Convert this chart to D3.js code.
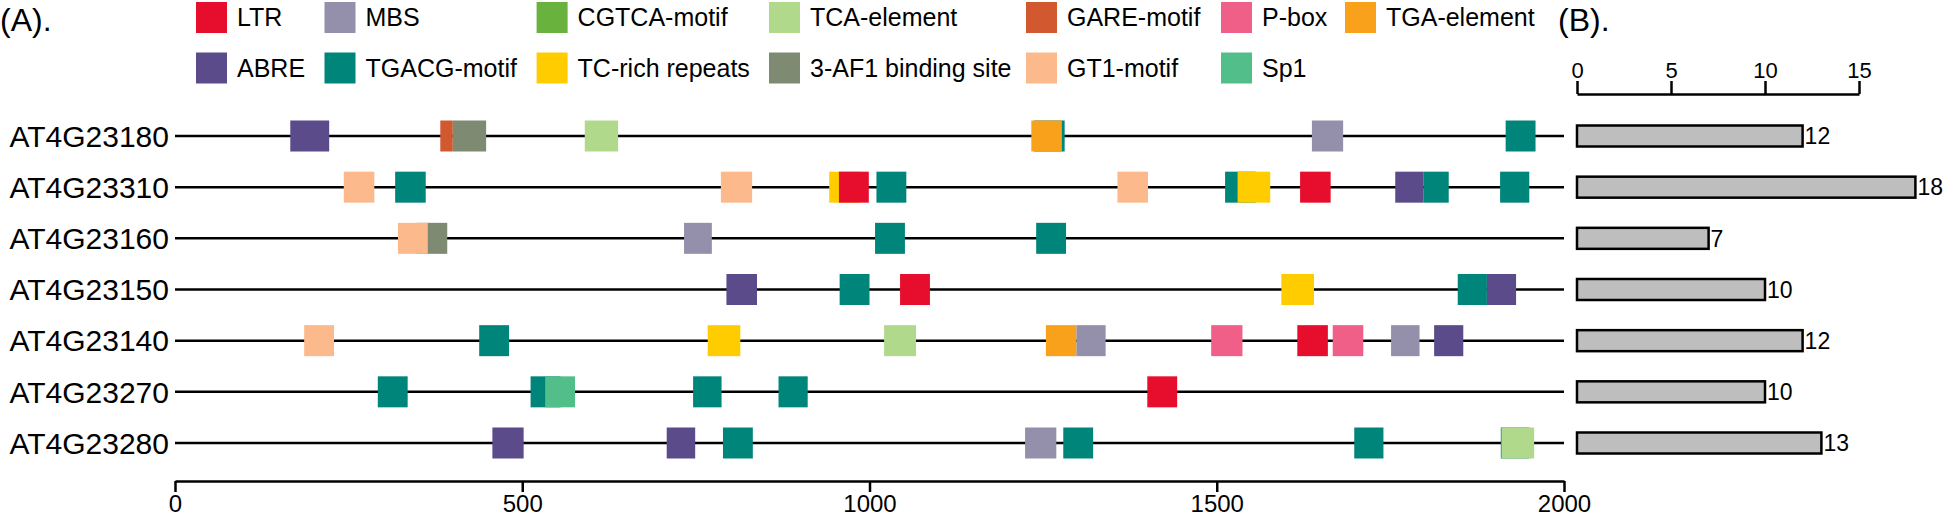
<!DOCTYPE html>
<html>
<head>
<meta charset="utf-8">
<script src="https://cdn.jsdelivr.net/npm/d3@7"></script>
<style>
  body { margin: 0; background: #fff; }
  svg { display: block; font-family: "Liberation Sans", Arial, sans-serif; }
</style>
</head>
<body>
<div id="chart"></div>
<script>
// Genes, top to bottom
const genes = ['AT4G23180', 'AT4G23310', 'AT4G23160', 'AT4G23150', 'AT4G23140', 'AT4G23270', 'AT4G23280'];

// Number of elements per gene (panel B)
const counts = [12, 18, 7, 10, 12, 10, 13];

// Legend rows
const legendRow1 = ['LTR', 'MBS', 'CGTCA-motif', 'TCA-element', 'GARE-motif', 'P-box', 'TGA-element'];
const legendRow2 = ['ABRE', 'TGACG-motif', 'TC-rich repeats', '3-AF1 binding site', 'GT1-motif', 'Sp1'];

const motifColors = {
  'LTR': '#e60e2c',
  'MBS': '#948faa',
  'CGTCA-motif': '#6ab23e',
  'TCA-element': '#b1d98b',
  'GARE-motif': '#d1582f',
  'P-box': '#ef5f87',
  'TGA-element': '#f9a11b',
  'ABRE': '#5b4b8a',
  'TGACG-motif': '#00857a',
  'TC-rich repeats': '#ffcc00',
  '3-AF1 binding site': '#7e8a72',
  'GT1-motif': '#fbb98c',
  'Sp1': '#52bf8b'
};

// Sites: [gene, motif, start, end] (drawn in this order, later ones on top)
const sites = [
  ['AT4G23180', 'ABRE', 166, 222],
  ['AT4G23180', 'GARE-motif', 382, 400],
  ['AT4G23180', '3-AF1 binding site', 400, 448],
  ['AT4G23180', 'TCA-element', 590, 638],
  ['AT4G23180', 'TGACG-motif', 1237, 1281],
  ['AT4G23180', 'TGA-element', 1233, 1277],
  ['AT4G23180', 'MBS', 1637, 1682],
  ['AT4G23180', 'TGACG-motif', 1916, 1959],

  ['AT4G23310', 'GT1-motif', 243, 287],
  ['AT4G23310', 'TGACG-motif', 317, 361],
  ['AT4G23310', 'GT1-motif', 786, 831],
  ['AT4G23310', 'TC-rich repeats', 942, 986],
  ['AT4G23310', 'LTR', 956, 999],
  ['AT4G23310', 'TGACG-motif', 1010, 1053],
  ['AT4G23310', 'GT1-motif', 1357, 1401],
  ['AT4G23310', 'TGACG-motif', 1512, 1556],
  ['AT4G23310', 'TC-rich repeats', 1530, 1577],
  ['AT4G23310', 'LTR', 1620, 1664],
  ['AT4G23310', 'ABRE', 1757, 1798],
  ['AT4G23310', 'TGACG-motif', 1798, 1834],
  ['AT4G23310', 'TGACG-motif', 1908, 1950],

  ['AT4G23160', '3-AF1 binding site', 348, 392],
  ['AT4G23160', 'GT1-motif', 321, 364],
  ['AT4G23160', 'MBS', 733, 773],
  ['AT4G23160', 'TGACG-motif', 1008, 1051],
  ['AT4G23160', 'TGACG-motif', 1240, 1283],

  ['AT4G23150', 'ABRE', 794, 838],
  ['AT4G23150', 'TGACG-motif', 957, 1000],
  ['AT4G23150', 'LTR', 1044, 1087],
  ['AT4G23150', 'TC-rich repeats', 1593, 1640],
  ['AT4G23150', 'TGACG-motif', 1847, 1889],
  ['AT4G23150', 'ABRE', 1889, 1931],

  ['AT4G23140', 'GT1-motif', 186, 229],
  ['AT4G23140', 'TGACG-motif', 438, 481],
  ['AT4G23140', 'TC-rich repeats', 767, 814],
  ['AT4G23140', 'TCA-element', 1021, 1067],
  ['AT4G23140', 'TGA-element', 1254, 1298],
  ['AT4G23140', 'MBS', 1298, 1340],
  ['AT4G23140', 'P-box', 1492, 1537],
  ['AT4G23140', 'LTR', 1616, 1660],
  ['AT4G23140', 'P-box', 1667, 1711],
  ['AT4G23140', 'MBS', 1751, 1792],
  ['AT4G23140', 'ABRE', 1813, 1855],

  ['AT4G23270', 'TGACG-motif', 292, 335],
  ['AT4G23270', 'TGACG-motif', 512, 555],
  ['AT4G23270', 'Sp1', 533, 576],
  ['AT4G23270', 'TGACG-motif', 746, 787],
  ['AT4G23270', 'TGACG-motif', 869, 911],
  ['AT4G23270', 'LTR', 1400, 1443],

  ['AT4G23280', 'ABRE', 457, 502],
  ['AT4G23280', 'ABRE', 708, 749],
  ['AT4G23280', 'TGACG-motif', 789, 832],
  ['AT4G23280', 'MBS', 1224, 1269],
  ['AT4G23280', 'TGACG-motif', 1279, 1322],
  ['AT4G23280', 'TGACG-motif', 1698, 1740],
  ['AT4G23280', 'TGACG-motif', 1909, 1950],
  ['AT4G23280', 'TCA-element', 1910, 1957]
];

const posTicks = [0, 500, 1000, 1500, 2000];
const countTicks = [0, 5, 10, 15];

const width = 1946, height = 519;

const svg = d3.select('#chart')
  .append('svg')
  .attr('width', width)
  .attr('height', height);

// Scales
const x = d3.scaleLinear().domain([0, 2000]).range([175, 1564]);
const y = d3.scalePoint().domain(genes).range([136, 443]);
const c = d3.scaleLinear().domain([0, 15]).range([1577, 1859]);

const boxH = 31;

// Panel labels
svg.append('text').attr('x', 0).attr('y', 31).style('font-size', '32px').text('(A).');
svg.append('text').attr('x', 1558).attr('y', 31).style('font-size', '32px').text('(B).');

// Legend
const legendX = [196, 324.5, 536.6, 769, 1026, 1221, 1345];
const legendItems = [];
legendRow1.forEach((m, i) => legendItems.push({ name: m, col: i, row: 0 }));
legendRow2.forEach((m, i) => legendItems.push({ name: m, col: i, row: 1 }));

const lg = svg.selectAll('.legend')
  .data(legendItems)
  .enter()
  .append('g')
  .attr('class', 'legend')
  .attr('transform', d => `translate(${legendX[d.col]}, ${2 + d.row * 50.5})`);

lg.append('rect')
  .attr('width', 31)
  .attr('height', 31)
  .style('fill', d => motifColors[d.name]);

lg.append('text')
  .attr('x', 41)
  .attr('y', 15.5)
  .attr('dy', '0.35em')
  .style('font-size', '25px')
  .text(d => d.name);

// Gene backbones
svg.selectAll('.backbone')
  .data(genes)
  .enter()
  .append('line')
  .attr('class', 'backbone')
  .attr('x1', x(0))
  .attr('x2', x(2000))
  .attr('y1', d => y(d))
  .attr('y2', d => y(d))
  .style('stroke', '#000')
  .style('stroke-width', 2.5);

svg.selectAll('.gene-label')
  .data(genes)
  .enter()
  .append('text')
  .attr('class', 'gene-label')
  .attr('x', x(0) - 6)
  .attr('y', d => y(d))
  .attr('dy', '0.36em')
  .attr('text-anchor', 'end')
  .style('font-size', '30px')
  .text(d => d);

// Motif boxes
svg.selectAll('.site')
  .data(sites)
  .enter()
  .append('rect')
  .attr('class', 'site')
  .attr('x', d => x(d[2]))
  .attr('width', d => x(d[3]) - x(d[2]))
  .attr('y', d => y(d[0]) - boxH / 2)
  .attr('height', boxH)
  .style('fill', d => motifColors[d[1]]);

// Position axis
const axisB = svg.append('g')
  .attr('transform', 'translate(0, 481)')
  .call(d3.axisBottom(x).tickValues(posTicks).tickFormat(d3.format('d'))
    .tickSize(11).tickSizeOuter(0).tickPadding(3));
axisB.select('.domain').style('stroke-width', 2.5);
axisB.selectAll('.tick line').style('stroke-width', 2.5);
axisB.selectAll('.tick text')
  .style('font-size', '24px')
  .style('font-family', '"Liberation Sans", Arial, sans-serif');

// Panel B: counts
const axisT = svg.append('g')
  .attr('transform', 'translate(0, 94)')
  .call(d3.axisTop(c).tickValues(countTicks).tickFormat(d3.format('d'))
    .tickSize(13).tickSizeOuter(0).tickPadding(3));
axisT.select('.domain').style('stroke-width', 2.5);
axisT.selectAll('.tick line').style('stroke-width', 2.5);
axisT.selectAll('.tick text')
  .style('font-size', '22px')
  .style('font-family', '"Liberation Sans", Arial, sans-serif');

const barH = 21;
svg.selectAll('.bar')
  .data(genes)
  .enter()
  .append('rect')
  .attr('class', 'bar')
  .attr('x', c(0))
  .attr('y', d => y(d) - barH / 2)
  .attr('width', (d, i) => c(counts[i]) - c(0))
  .attr('height', barH)
  .style('fill', '#bebebe')
  .style('stroke', '#000')
  .style('stroke-width', 2.5);

svg.selectAll('.bar-label')
  .data(genes)
  .enter()
  .append('text')
  .attr('class', 'bar-label')
  .attr('x', (d, i) => c(counts[i]) + 2)
  .attr('y', d => y(d))
  .attr('dy', '0.36em')
  .style('font-size', '23px')
  .text((d, i) => counts[i]);
</script>
</body>
</html>
